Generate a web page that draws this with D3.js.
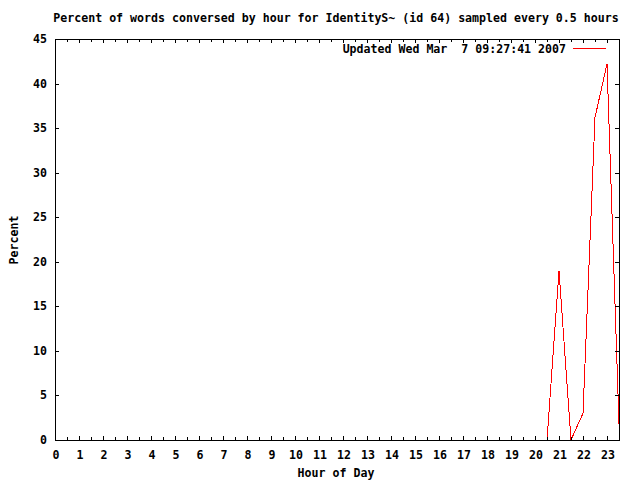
<!DOCTYPE html>
<html>
<head>
<meta charset="utf-8">
<script src="https://cdn.jsdelivr.net/npm/d3@7"></script>
<style>
  body { margin: 0; background: #fff; }
  svg text { font-family: "DejaVu Sans Mono", "Liberation Mono", monospace; font-weight: bold; font-size: 11.6px; fill: #000; }
</style>
</head>
<body>
<div id="chart"></div>
<script>
// -------------------------------------------------------------
// DATA (half-hour samples, 0 .. 23.5)
// -------------------------------------------------------------
const hours = [
  0, 0.5, 1, 1.5, 2, 2.5, 3, 3.5, 4, 4.5, 5, 5.5, 6, 6.5, 7, 7.5,
  8, 8.5, 9, 9.5, 10, 10.5, 11, 11.5, 12, 12.5, 13, 13.5, 14, 14.5, 15, 15.5,
  16, 16.5, 17, 17.5, 18, 18.5, 19, 19.5, 20, 20.5, 21, 21.5, 22, 22.5, 23, 23.5
];
const percent = [
  0, 0, 0, 0, 0, 0, 0, 0, 0, 0, 0, 0, 0, 0, 0, 0,
  0, 0, 0, 0, 0, 0, 0, 0, 0, 0, 0, 0, 0, 0, 0, 0,
  0, 0, 0, 0, 0, 0, 0, 0, 0, 0, 19, 0, 3, 36.2, 42.2, 1.8
];
const xTicks = d3.range(0, 24);
const yTicks = [0, 5, 10, 15, 20, 25, 30, 35, 40, 45];

const titleText = "Percent of words conversed by hour for IdentityS~ (id 64) sampled every 0.5 hours";
const legendText = "Updated Wed Mar  7 09:27:41 2007";

// -------------------------------------------------------------
// LAYOUT
// -------------------------------------------------------------
const width = 640, height = 480;
const plot = { left: 55, right: 619, top: 39, bottom: 440 };

const svg = d3.select("#chart").append("svg")
  .attr("width", width)
  .attr("height", height);

const x = d3.scaleLinear().domain([0, 23.5]).range([plot.left, plot.right]);
const y = d3.scaleLinear().domain([0, 45]).range([plot.bottom, plot.top]);

// data line (drawn first so the border sits on top of the zero run)
const line = d3.line()
  .x((d, i) => x(hours[i]))
  .y(d => y(d));

svg.append("path")
  .datum(percent)
  .attr("d", line)
  .attr("fill", "none")
  .attr("stroke", "#ff0000")
  .attr("stroke-width", 1)
  .attr("shape-rendering", "crispEdges");

const g = svg.append("g").attr("shape-rendering", "crispEdges");

// border
g.append("rect")
  .attr("x", plot.left + 0.5).attr("y", plot.top + 0.5)
  .attr("width", plot.right - plot.left).attr("height", plot.bottom - plot.top)
  .attr("fill", "none").attr("stroke", "#000");

// x ticks (major every hour, minor every half hour), mirrored at top
const halfTicks = d3.range(0.5, 23.5, 1);
function tickLines(vals, len) {
  vals.forEach(v => {
    const px = Math.round(x(v)) + 0.5;
    g.append("line").attr("x1", px).attr("x2", px)
      .attr("y1", plot.bottom).attr("y2", plot.bottom - len).attr("stroke", "#000");
    g.append("line").attr("x1", px).attr("x2", px)
      .attr("y1", plot.top).attr("y2", plot.top + len).attr("stroke", "#000");
  });
}
tickLines(xTicks.slice(1), 4);
tickLines(halfTicks, 3);

// y ticks, mirrored at right
yTicks.slice(1, -1).forEach(v => {
  const py = Math.round(y(v)) + 0.5;
  g.append("line").attr("x1", plot.left).attr("x2", plot.left + 4)
    .attr("y1", py).attr("y2", py).attr("stroke", "#000");
  g.append("line").attr("x1", plot.right).attr("x2", plot.right - 4)
    .attr("y1", py).attr("y2", py).attr("stroke", "#000");
});

// tick labels
svg.selectAll("text.xt").data(xTicks).enter().append("text")
  .attr("class", "xt")
  .attr("x", d => x(d) + 1)
  .attr("y", 459)
  .attr("text-anchor", "middle")
  .text(d => d);

svg.selectAll("text.yt").data(yTicks).enter().append("text")
  .attr("class", "yt")
  .attr("x", 47)
  .attr("y", d => y(d) + 4)
  .attr("text-anchor", "end")
  .text(d => d);

// title and axis labels
svg.append("text").attr("x", 336).attr("y", 22)
  .attr("text-anchor", "middle").text(titleText);

svg.append("text").attr("x", 336).attr("y", 477)
  .attr("text-anchor", "middle").text("Hour of Day");

svg.append("text")
  .attr("transform", "translate(18,240) rotate(-90)")
  .attr("text-anchor", "middle").text("Percent");

// legend
svg.append("text").attr("x", 566).attr("y", 53)
  .attr("text-anchor", "end").attr("xml:space", "preserve")
  .style("white-space", "pre")
  .text(legendText);
g.append("line").attr("x1", 573).attr("x2", 606)
  .attr("y1", 48.5).attr("y2", 48.5).attr("stroke", "#ff0000");
</script>
</body>
</html>
